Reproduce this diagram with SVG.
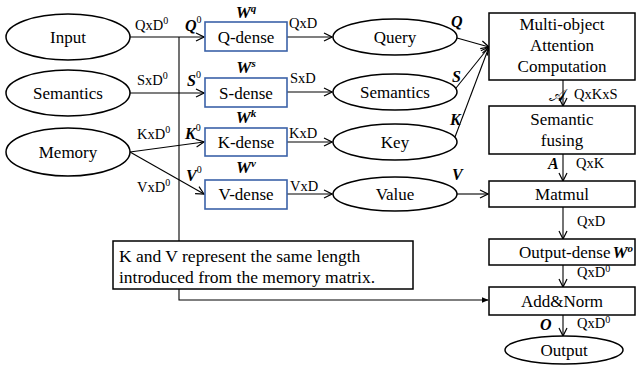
<svg xmlns="http://www.w3.org/2000/svg" width="637" height="365" viewBox="0 0 637 365" font-family="'Liberation Serif', 'Times New Roman', serif">
<style>
text,tspan{font-family:"Liberation Serif","Times New Roman",serif}
text{fill:#000}
.t{font-size:17px;text-anchor:middle}
.l{font-size:14.5px}
.b{font-weight:bold;font-style:italic;font-size:16px}
.bw{font-weight:bold;font-style:italic;font-size:17px;text-anchor:middle}
.sup{font-size:10px}
.e{fill:#fff;stroke:#000;stroke-width:1.5}
.d{fill:#fff;stroke:#3B62A8;stroke-width:1.6}
.r{fill:#fff;stroke:#000;stroke-width:1.5}
.c{fill:none;stroke:#000;stroke-width:1.1}
.cal{font-family:"DejaVu Serif","DejaVu Sans",serif;font-size:18px}
</style>
<defs>
<marker id="ah" viewBox="0 0 10 10" refX="9" refY="5" markerWidth="10" markerHeight="10" markerUnits="userSpaceOnUse" orient="auto">
<path d="M1,1 L9,5 L1,9" fill="none" stroke="#000" stroke-width="1.2"/>
</marker>
<marker id="af" viewBox="0 0 10 10" refX="9" refY="5" markerWidth="7" markerHeight="7" markerUnits="userSpaceOnUse" orient="auto">
<path d="M0,1 L10,5 L0,9 Z" fill="#000"/>
</marker>
</defs>
<g id="connectors">
<line class="c" x1="130" y1="37" x2="204" y2="37" marker-end="url(#ah)"/>
<line class="c" x1="130" y1="93" x2="204" y2="93" marker-end="url(#ah)"/>
<line class="c" x1="130" y1="152" x2="204" y2="142" marker-end="url(#ah)"/>
<line class="c" x1="130" y1="152" x2="204" y2="194" marker-end="url(#ah)"/>
<polyline class="c" points="179,37 179,300 488,300" marker-end="url(#af)"/>
<line class="c" x1="287" y1="37" x2="332" y2="37" marker-end="url(#ah)"/>
<line class="c" x1="287" y1="92" x2="332" y2="92" marker-end="url(#ah)"/>
<line class="c" x1="287" y1="142" x2="332" y2="142" marker-end="url(#ah)"/>
<line class="c" x1="287" y1="194" x2="332" y2="194" marker-end="url(#ah)"/>
<line class="c" x1="457" y1="38" x2="489" y2="47" marker-end="url(#ah)"/>
<line class="c" x1="456" y1="88" x2="489" y2="47" marker-end="url(#ah)"/>
<line class="c" x1="455" y1="137" x2="489" y2="47" marker-end="url(#ah)"/>
<line class="c" x1="457" y1="194" x2="488" y2="194" marker-end="url(#ah)"/>
<line class="c" x1="563" y1="80" x2="563" y2="106" marker-end="url(#ah)"/>
<line class="c" x1="563" y1="154" x2="563" y2="181" marker-end="url(#ah)"/>
<line class="c" x1="563" y1="207" x2="563" y2="239" marker-end="url(#ah)"/>
<line class="c" x1="563" y1="265" x2="563" y2="287" marker-end="url(#ah)"/>
<line class="c" x1="563" y1="315" x2="563" y2="336" marker-end="url(#ah)"/>
</g>
<g id="input"><ellipse class="e" cx="68" cy="37" rx="62" ry="23"/><text class="t" x="68" y="43">Input</text></g>
<g id="semantics-in"><ellipse class="e" cx="68" cy="93" rx="62" ry="23"/><text class="t" x="68" y="99">Semantics</text></g>
<g id="memory"><ellipse class="e" cx="68" cy="152" rx="62" ry="24"/><text class="t" x="68" y="158">Memory</text></g>
<g id="q-dense"><rect class="d" x="205" y="22" width="82" height="29"/><text class="t" x="246" y="43">Q-dense</text></g>
<g id="s-dense"><rect class="d" x="205" y="78" width="82" height="29"/><text class="t" x="246" y="99">S-dense</text></g>
<g id="k-dense"><rect class="d" x="205" y="128" width="82" height="28"/><text class="t" x="246" y="148">K-dense</text></g>
<g id="v-dense"><rect class="d" x="205" y="180" width="82" height="29"/><text class="t" x="246" y="200">V-dense</text></g>
<g id="query"><ellipse class="e" cx="395" cy="37" rx="62" ry="18"/><text class="t" x="395" y="43">Query</text></g>
<g id="semantics"><ellipse class="e" cx="395" cy="92" rx="62" ry="18"/><text class="t" x="395" y="98">Semantics</text></g>
<g id="key"><ellipse class="e" cx="395" cy="142" rx="62" ry="18"/><text class="t" x="395" y="148">Key</text></g>
<g id="value"><ellipse class="e" cx="395" cy="194" rx="62" ry="17"/><text class="t" x="395" y="200">Value</text></g>
<g id="attention"><rect class="r" x="489" y="13" width="146" height="67"/><text class="t" x="562" y="30">Multi-object</text><text class="t" x="562" y="51">Attention</text><text class="t" x="562" y="72">Computation</text></g>
<g id="fusing"><rect class="r" x="489" y="106" width="146" height="48"/><text class="t" x="562" y="125">Semantic</text><text class="t" x="562" y="146">fusing</text></g>
<g id="matmul"><rect class="r" x="489" y="181" width="146" height="26"/><text class="t" x="562" y="200">Matmul</text></g>
<g id="output-dense"><rect class="r" x="489" y="239" width="146" height="26"/><text class="t" x="576" y="258">Output-dense<tspan font-weight="bold" font-style="italic" dx="2">W</tspan><tspan font-weight="bold" font-style="italic" font-size="11" dy="-6">o</tspan></text></g>
<g id="addnorm"><rect class="r" x="489" y="287" width="146" height="28"/><text class="t" x="562" y="307">Add&amp;Norm</text></g>
<g id="output"><ellipse class="e" cx="564" cy="350" rx="59" ry="14"/><text class="t" x="564" y="356">Output</text></g>
<g id="note"><rect class="r" x="113" y="241" width="300" height="48" stroke-width="1.3"/><text font-size="17.5" x="119" y="262">K and V represent the same length</text><text font-size="17.5" x="119" y="283">introduced from the memory matrix.</text></g>
<g id="labels">
<text class="l" x="135" y="30">QxD<tspan class="sup" dy="-6">0</tspan></text>
<text class="l" x="137" y="85">SxD<tspan class="sup" dy="-6">0</tspan></text>
<text class="l" x="137" y="139">KxD<tspan class="sup" dy="-6">0</tspan></text>
<text class="l" x="137" y="192">VxD<tspan class="sup" dy="-6">0</tspan></text>
<text class="b" x="185" y="31">Q<tspan class="sup" font-weight="normal" font-style="normal" dy="-8">0</tspan></text>
<text class="b" x="187" y="86">S<tspan class="sup" font-weight="normal" font-style="normal" dy="-8">0</tspan></text>
<text class="b" x="185" y="139">K<tspan class="sup" font-weight="normal" font-style="normal" dy="-8">0</tspan></text>
<text class="b" x="186" y="181">V<tspan class="sup" font-weight="normal" font-style="normal" dy="-8">0</tspan></text>
<text class="bw" x="246" y="18">W<tspan font-size="11" dy="-6">q</tspan></text>
<text class="bw" x="246" y="73">W<tspan font-size="11" dy="-6">s</tspan></text>
<text class="bw" x="246" y="123">W<tspan font-size="11" dy="-6">k</tspan></text>
<text class="bw" x="246" y="173">W<tspan font-size="11" dy="-6">v</tspan></text>
<text class="l" x="289" y="28">QxD</text>
<text class="l" x="290" y="83">SxD</text>
<text class="l" x="289" y="138">KxD</text>
<text class="l" x="290" y="191">VxD</text>
<text class="b" x="451" y="27">Q</text>
<text class="b" x="452" y="82">S</text>
<text class="b" x="450" y="125">K</text>
<text class="b" x="452" y="180">V</text>
<text class="cal" x="549" y="101">𝒜</text>
<text class="l" x="574" y="99">QxKxS</text>
<text class="b" x="548" y="169">A</text>
<text class="l" x="576" y="168">QxK</text>
<text class="l" x="577" y="226">QxD</text>
<text class="l" x="577" y="277">QxD<tspan class="sup" dy="-5">0</tspan></text>
<text class="b" x="540" y="330">O</text>
<text class="l" x="577" y="328">QxD<tspan class="sup" dy="-5">0</tspan></text>
</g>
</svg>
